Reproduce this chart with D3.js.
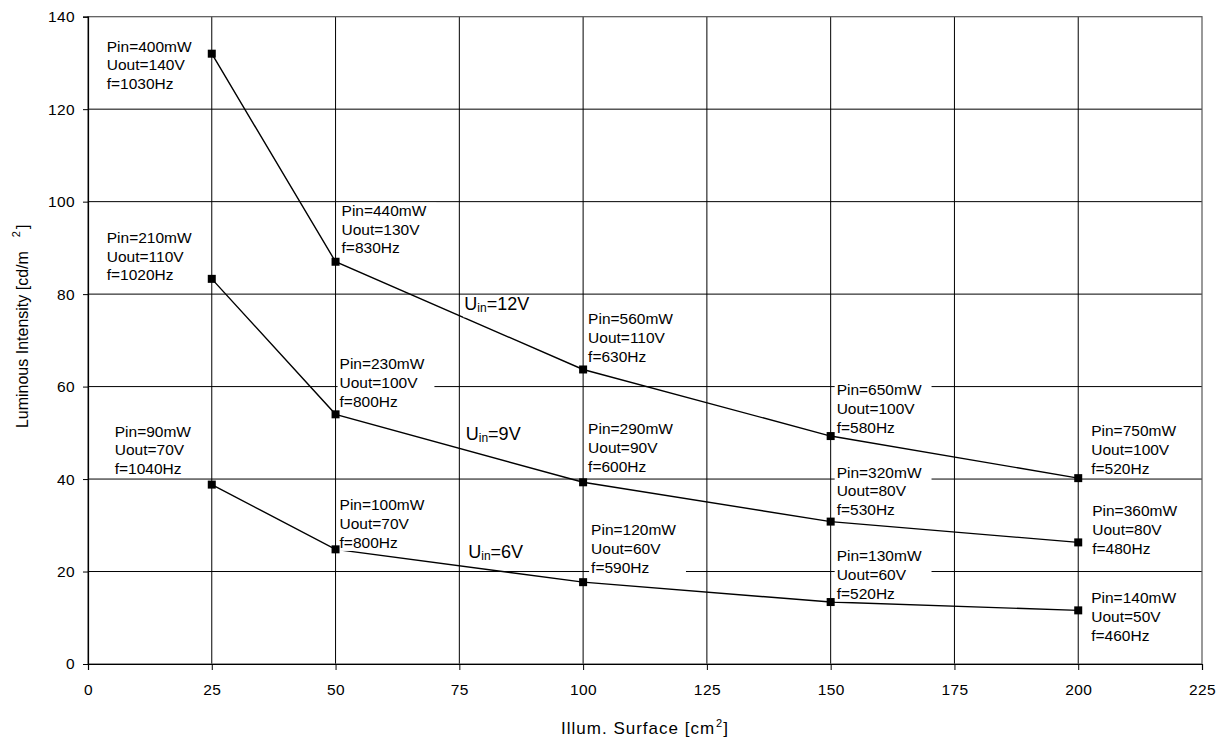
<!DOCTYPE html>
<html>
<head>
<meta charset="utf-8">
<script src="https://cdn.jsdelivr.net/npm/d3@7"></script>
<style>
  html, body { margin: 0; padding: 0; background: #fff; }
  svg { display: block; font-family: "Liberation Sans", Arial, sans-serif; }
  .tick text { fill: #000; }
</style>
</head>
<body>
<svg id="chart" width="1228" height="740"></svg>
<script>
// values
const surface = [25, 50, 100, 150, 200];
const seriesNames = ["12V", "9V", "6V"];
const lum12 = [132, 87, 63.7, 49.3, 40.2];
const lum9 = [83.3, 54, 39.3, 30.8, 26.3];
const lum6 = [38.8, 24.8, 17.7, 13.4, 11.6];
const pin12 = [400, 440, 560, 650, 750];
const pin9 = [210, 230, 290, 320, 360];
const pin6 = [90, 100, 120, 130, 140];
const uout12 = [140, 130, 110, 100, 100];
const uout9 = [110, 100, 90, 80, 80];
const uout6 = [70, 70, 60, 60, 50];
const freq12 = [1030, 830, 630, 580, 520];
const freq9 = [1020, 800, 600, 530, 480];
const freq6 = [1040, 800, 590, 520, 460];
const xTicks = [0, 25, 50, 75, 100, 125, 150, 175, 200, 225];
const yTicks = [0, 20, 40, 60, 80, 100, 120, 140];

// label placement (pixel offsets from each point to the first text baseline)
const labelOffsets = [
  [[-105, -2], [6, -46], [5, -45], [6, -41], [13, -42]],
  [[-105, -36], [4, -45], [5, -48], [6, -44], [14, -26]],
  [[-97, -48], [4, -39], [8, -47], [6, -41], [13, -7]]
];
// series name positions in data units
const seriesLabelAt = [[76, 76.5], [76.3, 48.5], [76.8, 23]];

const margin = { top: 16.7, right: 26, bottom: 76, left: 88 };
const W = 1228, H = 740;

const svg = d3.select("#chart");
const x = d3.scaleLinear().domain([0, 225]).range([margin.left, W - margin.right]);
const y = d3.scaleLinear().domain([0, 140]).range([H - margin.bottom, margin.top]);

const series = [
  { name: seriesNames[0], lum: lum12, pin: pin12, uout: uout12, freq: freq12 },
  { name: seriesNames[1], lum: lum9, pin: pin9, uout: uout9, freq: freq9 },
  { name: seriesNames[2], lum: lum6, pin: pin6, uout: uout6, freq: freq6 }
];

// grid
const grid = svg.append("g").attr("class", "grid");
grid.selectAll("line.v")
  .data(xTicks.slice(1, -1))
  .join("line")
  .attr("x1", (d) => x(d)).attr("x2", (d) => x(d))
  .attr("y1", y(0)).attr("y2", y(140))
  .attr("stroke", "#000").attr("stroke-width", 1);
grid.selectAll("line.h")
  .data(yTicks.slice(1, -1))
  .join("line")
  .attr("x1", x(0)).attr("x2", x(225))
  .attr("y1", (d) => y(d)).attr("y2", (d) => y(d))
  .attr("stroke", "#000").attr("stroke-width", 1);

svg.append("rect")
  .attr("x", x(0)).attr("y", y(140))
  .attr("width", x(225) - x(0)).attr("height", y(0) - y(140))
  .attr("fill", "none").attr("stroke", "#555").attr("stroke-width", 1.2);

// axes
const xAxis = svg.append("g")
  .attr("transform", `translate(0,${y(0)})`)
  .call(d3.axisBottom(x).tickValues(xTicks).tickSizeOuter(0).tickSize(6).tickPadding(14));
const yAxis = svg.append("g")
  .attr("transform", `translate(${x(0)},0)`)
  .call(d3.axisLeft(y).tickValues(yTicks).tickSizeOuter(0).tickSize(5).tickPadding(8));

[xAxis, yAxis].forEach((g) => {
  g.select(".domain").attr("stroke", "#000").attr("stroke-width", 1.2);
  g.selectAll(".tick line").attr("stroke", "#000");
  g.selectAll(".tick text")
    .attr("font-size", 15.5)
    .attr("letter-spacing", 0.4)
    .attr("font-family", "Liberation Sans, Arial, sans-serif");
});

// axis titles
const xTitle = svg.append("text")
  .attr("x", (x(0) + x(225)) / 2)
  .attr("y", 734)
  .attr("text-anchor", "middle")
  .attr("font-size", 17)
  .attr("letter-spacing", 1);
xTitle.append("tspan").text("Illum. Surface [cm");
xTitle.append("tspan").attr("font-size", 11).attr("dy", -7).attr("dx", 1).text("2");
xTitle.append("tspan").attr("dy", 7).text("]");

const yTitle = svg.append("text")
  .attr("transform", `translate(28,${(y(0) + y(140)) / 2 - 14}) rotate(-90)`)
  .attr("text-anchor", "middle")
  .attr("font-size", 16);
yTitle.append("tspan").text("Luminous Intensity [cd/m");
yTitle.append("tspan").attr("font-size", 11).attr("dy", -8).attr("dx", 14).text("2");
yTitle.append("tspan").attr("dy", 8).attr("dx", 2).text("]");

// series lines
const line = d3.line()
  .x((d, i) => x(surface[i]))
  .y((d) => y(d));

svg.append("g").selectAll("path")
  .data(series)
  .join("path")
  .attr("d", (s) => line(s.lum))
  .attr("fill", "none")
  .attr("stroke", "#000")
  .attr("stroke-width", 1.4);

// point annotations with white backgrounds
const LINE_H = 18.8;
const labels = svg.append("g").attr("font-size", 15.5);

series.forEach((s, si) => {
  s.lum.forEach((v, i) => {
    const [dx, dy] = labelOffsets[si][i];
    const tx = x(surface[i]) + dx;
    const ty = y(v) + dy;
    const g = labels.append("g");
    const box = g.append("rect").attr("fill", "#fff");
    const lines = [`Pin=${s.pin[i]}mW`, `Uout=${s.uout[i]}V`, `f=${s.freq[i]}Hz`];
    const t = g.append("text").attr("x", tx).attr("y", ty).attr("fill", "#000");
    lines.forEach((txt, k) => {
      t.append("tspan").attr("x", tx).attr("dy", k === 0 ? 0 : LINE_H).text(txt);
    });
    let wMax = 0;
    t.selectAll("tspan").each(function () {
      wMax = Math.max(wMax, this.getComputedTextLength());
    });
    box.attr("x", tx - 2).attr("y", ty - 13)
      .attr("width", wMax + 12)
      .attr("height", 13 + 2 * LINE_H + 3);
  });
});

// series names
series.forEach((s, si) => {
  const [lx, ly] = seriesLabelAt[si];
  const g = svg.append("g");
  const box = g.append("rect").attr("fill", "#fff");
  const t = g.append("text")
    .attr("x", x(lx)).attr("y", y(ly))
    .attr("font-size", 18).attr("fill", "#000");
  t.append("tspan").text("U");
  t.append("tspan").attr("font-size", 12).attr("dy", 2).text("in");
  t.append("tspan").attr("dy", -2).text("=" + s.name);
  const bb = t.node().getBBox();
  box.attr("x", bb.x - 1).attr("y", y(ly) - 14)
    .attr("width", bb.width + 3).attr("height", 21);
  g.raise();
});

// markers on top
svg.append("g").selectAll("g")
  .data(series)
  .join("g")
  .selectAll("rect")
  .data((s) => s.lum.map((v, i) => [surface[i], v]))
  .join("rect")
  .attr("x", (d) => x(d[0]) - 4)
  .attr("y", (d) => y(d[1]) - 4)
  .attr("width", 8)
  .attr("height", 8)
  .attr("fill", "#000");
</script>
</body>
</html>
